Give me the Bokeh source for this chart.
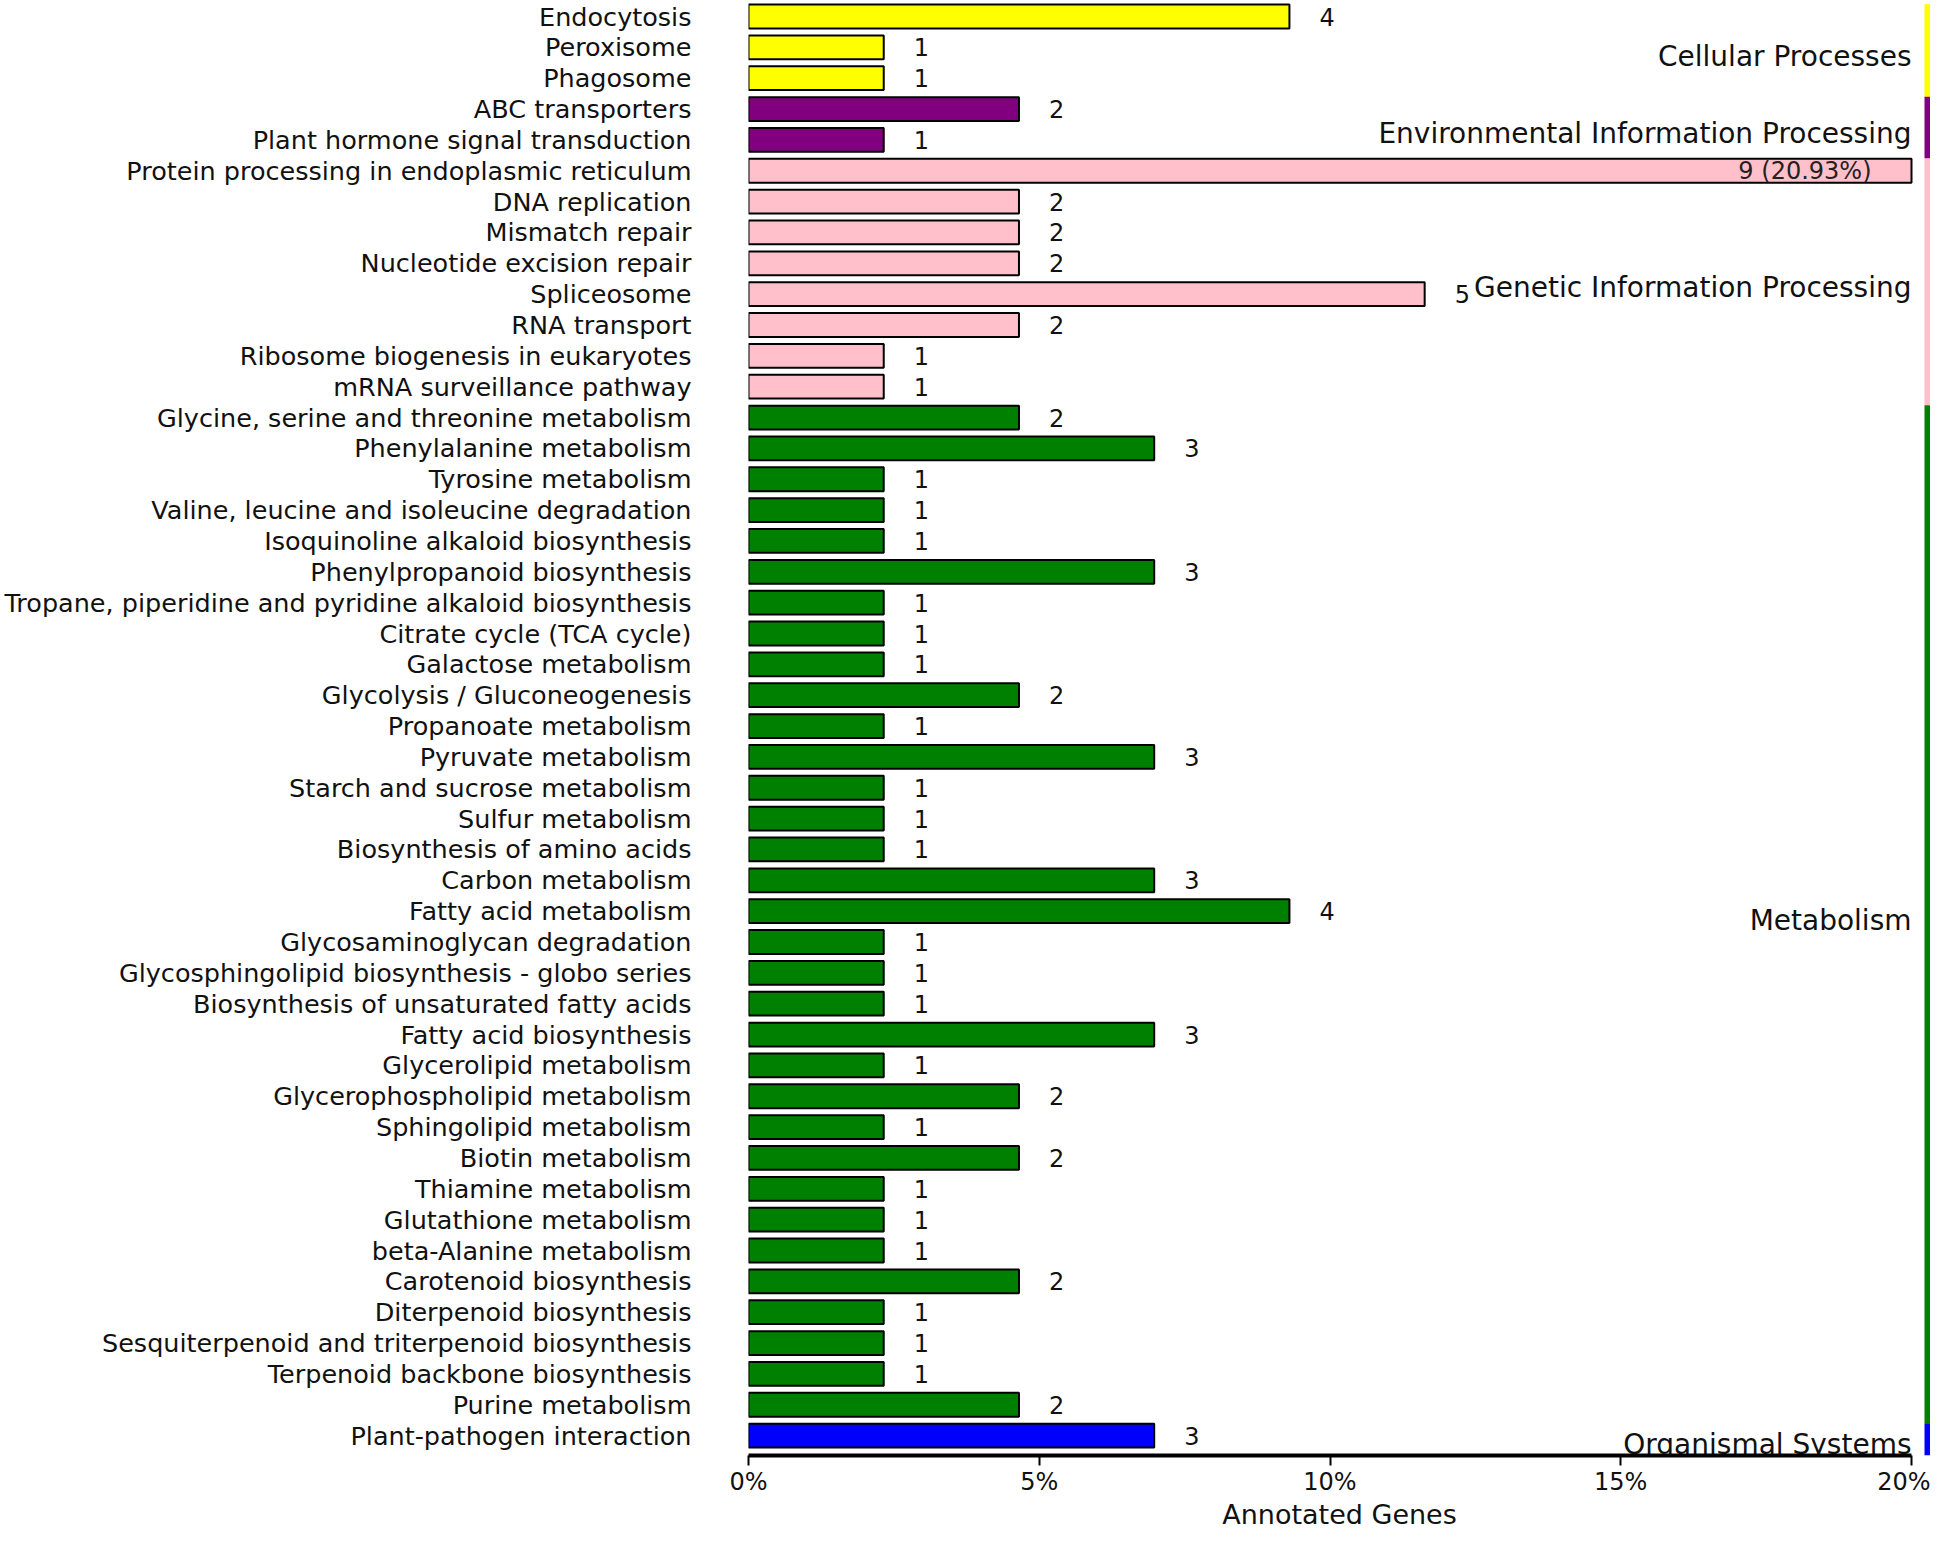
from bokeh.plotting import figure
from bokeh.models import Range1d, FixedTicker, ColumnDataSource
from bokeh.core.properties import value
from bokeh.embed import file_html
from bokeh.resources import INLINE

pathways = [
    "Endocytosis", "Peroxisome", "Phagosome",
    "ABC transporters", "Plant hormone signal transduction",
    "Protein processing in endoplasmic reticulum", "DNA replication", "Mismatch repair",
    "Nucleotide excision repair", "Spliceosome", "RNA transport",
    "Ribosome biogenesis in eukaryotes", "mRNA surveillance pathway",
    "Glycine, serine and threonine metabolism", "Phenylalanine metabolism", "Tyrosine metabolism",
    "Valine, leucine and isoleucine degradation", "Isoquinoline alkaloid biosynthesis",
    "Phenylpropanoid biosynthesis", "Tropane, piperidine and pyridine alkaloid biosynthesis",
    "Citrate cycle (TCA cycle)", "Galactose metabolism", "Glycolysis / Gluconeogenesis",
    "Propanoate metabolism", "Pyruvate metabolism", "Starch and sucrose metabolism",
    "Sulfur metabolism", "Biosynthesis of amino acids", "Carbon metabolism",
    "Fatty acid metabolism", "Glycosaminoglycan degradation",
    "Glycosphingolipid biosynthesis - globo series", "Biosynthesis of unsaturated fatty acids",
    "Fatty acid biosynthesis", "Glycerolipid metabolism", "Glycerophospholipid metabolism",
    "Sphingolipid metabolism", "Biotin metabolism", "Thiamine metabolism",
    "Glutathione metabolism", "beta-Alanine metabolism", "Carotenoid biosynthesis",
    "Diterpenoid biosynthesis", "Sesquiterpenoid and triterpenoid biosynthesis",
    "Terpenoid backbone biosynthesis", "Purine metabolism",
    "Plant-pathogen interaction",
]
counts = [4, 1, 1,
          2, 1,
          9, 2, 2, 2, 5, 2, 1, 1,
          2, 3, 1, 1, 1, 3, 1, 1, 1, 2, 1, 3, 1, 1, 1, 3, 4, 1, 1, 1, 3, 1, 2, 1, 2,
          1, 1, 1, 2, 1, 1, 1, 2,
          3]
total_annotated_genes = 43
group_names = ["Cellular Processes", "Environmental Information Processing",
               "Genetic Information Processing", "Metabolism", "Organismal Systems"]
group_sizes = [3, 2, 8, 33, 1]
group_colors = ["#FFFF00", "#800080", "#FFC0CB", "#008000", "#0000FF"]
tick_values = [0, 5, 10, 15, 20]
tick_labels = ["0%", "5%", "10%", "15%", "20%"]
x_title = "Annotated Genes"

FONT = value("DejaVu Sans")
TXT = "#111111"
axis_max = tick_values[-1]

# layout (pixels inside the figure)
W, H = 1930, 1534
left_px, right20_px = 748, 1911
px_per_pct = (right20_px - left_px) / axis_max
first_c = 16
pitch = 30.85
n = len(pathways)
frame_bottom = int(round(first_c + (n - 1) * pitch + 20))

x_hi = (W - left_px) / px_per_pct
y_top = -first_c / pitch
y_bot = (frame_bottom - first_c) / pitch

p = figure(width=W, height=H, x_range=Range1d(0, x_hi), y_range=Range1d(y_bot, y_top),
           output_backend="svg", toolbar_location=None, title=None,
           min_border_left=left_px, min_border_right=0, min_border_top=0,
           min_border_bottom=H - frame_bottom)
p.xgrid.grid_line_color = None
p.ygrid.grid_line_color = None
p.outline_line_color = None
p.background_fill_color = "white"
p.border_fill_color = "white"

colors = []
for s, c in zip(group_sizes, group_colors):
    colors += [c] * s

pct = [c / total_annotated_genes * 100 for c in counts]
rows = list(range(n))
shown = [min(v, axis_max) for v in pct]
src = ColumnDataSource(dict(y=rows, right=shown, color=colors, name=pathways))
p.hbar(y="y", left=0, right="right", height=0.77, fill_color="color",
       line_color="black", line_width=2, source=src)

# value labels
nx, ny, nt = [], [], []
ix, iy, it = [], [], []
for i, (c, v) in enumerate(zip(counts, pct)):
    if v > axis_max:
        ix.append(axis_max); iy.append(i); it.append(f"{c} ({v:.2f}%)")
    else:
        nx.append(v); ny.append(i); nt.append(str(c))
p.text(x=nx, y=ny, text=nt, text_align="left", text_baseline="middle", x_offset=30,
       text_font=FONT, text_font_size="24px", text_color=TXT)
p.text(x=ix, y=iy, text=it, text_align="right", text_baseline="middle", x_offset=-40,
       text_font=FONT, text_font_size="24px", text_color="#222222")

# group labels and colour strip
starts = []
s0 = 0
for s in group_sizes:
    starts.append(s0)
    s0 += s
gy, gtop, gbot = [], [], []
for k, (st, s) in enumerate(zip(starts, group_sizes)):
    en = st + s - 1
    gy.append((st + en) / 2 + 0.29)
    gtop.append(st - 0.4)
    gbot.append(en + 0.6 if k < len(group_sizes) - 1 else y_bot)
p.text(x=[axis_max] * len(group_names), y=gy, text=group_names, text_align="right",
       text_baseline="middle", text_font=FONT, text_font_size="28px", text_color=TXT)
strip_l = (W - 6 - left_px) / px_per_pct
p.quad(left=strip_l, right=x_hi, top=gtop, bottom=gbot, fill_color=group_colors, line_color=None)

# category axis (left)
yax = p.yaxis[0]
yax.ticker = FixedTicker(ticks=rows)
yax.major_label_overrides = {i: name for i, name in zip(rows, pathways)}
yax.axis_line_color = None
yax.major_tick_line_color = None
yax.minor_tick_line_color = None
yax.major_tick_out = 0
yax.major_tick_in = 0
yax.major_label_standoff = 57
yax.major_label_text_font = "DejaVu Sans"
yax.major_label_text_font_size = "25.5px"
yax.major_label_text_color = TXT

# percentage axis (bottom)
ax = p.xaxis[0]
ax.ticker = FixedTicker(ticks=tick_values)
ax.major_label_overrides = {v: l for v, l in zip(tick_values, tick_labels)}
ax.bounds = (tick_values[0], tick_values[-1])
ax.axis_line_width = 4
ax.axis_line_color = "black"
ax.major_tick_out = 10
ax.major_tick_in = 0
ax.major_tick_line_width = 2
ax.minor_tick_line_color = None
ax.major_label_standoff = 2
ax.major_label_text_font = "DejaVu Sans"
ax.major_label_text_font_size = "24px"
ax.major_label_text_color = TXT
ax.axis_label = x_title
ax.axis_label_standoff = 0
ax.axis_label_text_font = "DejaVu Sans"
ax.axis_label_text_font_size = "27px"
ax.axis_label_text_font_style = "normal"
ax.axis_label_text_color = TXT

open("out.html", "w").write(file_html(p, INLINE))
